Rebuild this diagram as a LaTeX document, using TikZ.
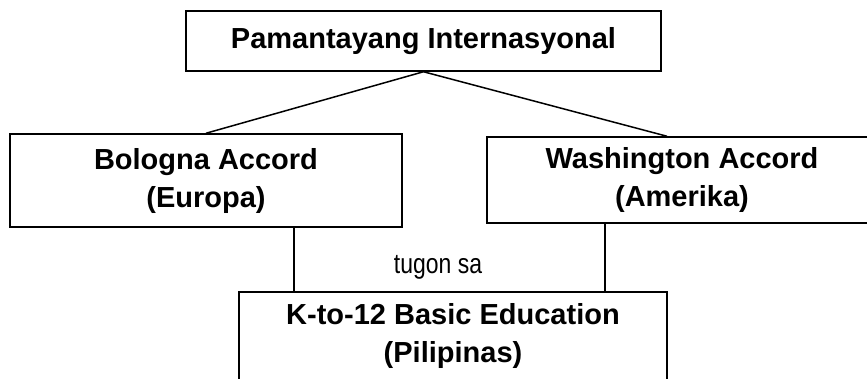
\documentclass[tikz,border=0pt]{standalone}
\usepackage{fontspec}
\setmainfont{Liberation Sans}
\newfontfamily\narrowfont[FakeStretch=0.82]{Liberation Sans}
\usetikzlibrary{positioning}

\tikzset{
    accordbox/.style={draw, line width=1.5pt, align=center, inner sep=0pt,
        font=\fontsize{29}{38}\selectfont\bfseries},
}

\begin{document}
\begin{tikzpicture}[x=1pt, y=-1pt]
    \useasboundingbox (0,0) rectangle (867,378);
    \clip (0,0) rectangle (867,378);

    \node[accordbox, minimum width=475pt, minimum height=60pt] (top) at (423.5,41) {Pamantayang Internasyonal};
    \node[accordbox, minimum width=392pt, minimum height=93pt] (bologna) at (206,180.5) {Bologna Accord\\(Europa)};
    \node[accordbox, minimum width=390pt, minimum height=86pt] (washington) at (682,180) {Washington Accord\\(Amerika)};
    \node[accordbox, minimum width=428pt, minimum height=88pt] (ktwelve) at (453,336) {K-to-12 Basic Education\\(Pilipinas)};

    \node[font=\narrowfont\fontsize{28}{32}\selectfont] (tugon) at (438,267) {tugon sa};

    \draw[line width=1.5pt] (top.south) -- (bologna.north);
    \draw[line width=1.5pt] (top.south) -- ([xshift=-15pt]washington.north);

    \draw[line width=1.5pt] ([xshift=88pt]bologna.south) -- ([xshift=88pt]bologna.south |- ktwelve.north);
    \draw[line width=1.5pt] ([xshift=-77pt]washington.south) -- ([xshift=-77pt]washington.south |- ktwelve.north);
\end{tikzpicture}
\end{document}
